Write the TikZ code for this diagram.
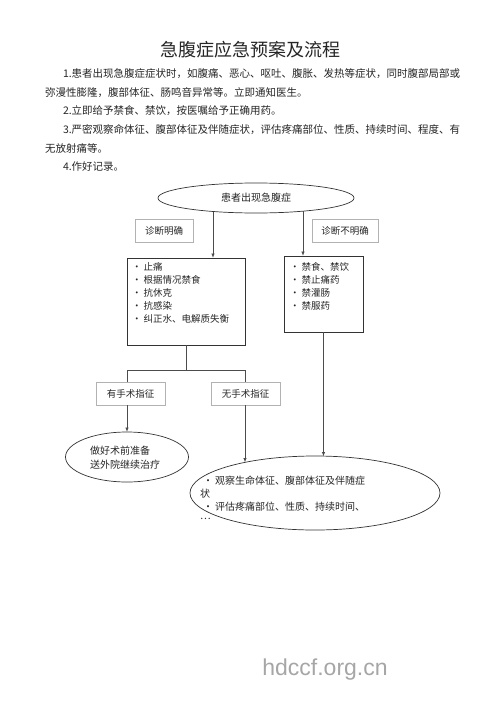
\documentclass[tikz,border=0pt]{standalone}
\usepackage{fontspec}
\setmainfont{Noto Sans CJK SC}
\newfontfamily\wmfont{Liberation Sans}
\usetikzlibrary{shapes.geometric,arrows.meta}
\begin{document}
\begin{tikzpicture}[x=1pt,y=-1pt,
  every node/.style={inner sep=0pt,outer sep=0pt,text=black!85},
  para/.style={anchor=west,font=\fontsize{10.5}{12}\selectfont},
  labelbox/.style={draw=black!30,line width=0.6pt,fill=white,minimum height=23pt,font=\fontsize{9.5}{11}\selectfont},
  contentbox/.style={draw=black!80,line width=0.7pt},
  oval/.style={ellipse,draw=black!80,line width=0.7pt},
  btext/.style={anchor=north west,align=left,font=\fontsize{9.5}{13}\selectfont},
  conn/.style={draw=black!70,line width=0.8pt},
  arr/.style={conn,-{Latex[length=4.5pt,width=3.5pt]}}
]
\useasboundingbox (0,0) rectangle (500,707);
\fill[white] (0,0) rectangle (500,707);

% title and text
\node[font=\fontsize{18}{20}\selectfont] (title) at (250,50) {急腹症应急预案及流程};
\node[para] (p1) at (63,74) {1.患者出现急腹症症状时，如腹痛、恶心、呕吐、腹胀、发热等症状，同时腹部局部或};
\node[para] (p1b) at (45,93) {弥漫性膨隆，腹部体征、肠鸣音异常等。立即通知医生。};
\node[para] (p2) at (63,111) {2.立即给予禁食、禁饮，按医嘱给予正确用药。};
\node[para] (p3) at (63,130) {3.严密观察命体征、腹部体征及伴随症状，评估疼痛部位、性质、持续时间、程度、有};
\node[para] (p3b) at (45,148) {无放射痛等。};
\node[para] (p4) at (63,167) {4.作好记录。};

% top ellipse
\node[oval,minimum width=196pt,minimum height=30pt,font=\fontsize{10}{12}\selectfont] (e1) at (256,198) {患者出现急腹症};
\coordinate (t1) at (213,211.5);
\coordinate (t2) at (303,211);

% labels
\node[labelbox,minimum width=58pt] (ld) at (164,231) {诊断明确};
\node[labelbox,minimum width=66pt] (rd) at (345,231) {诊断不明确};

% content boxes
\node[contentbox,minimum width=118pt,minimum height=87pt] (lb) at (186,301.5) {};
\node[btext] (lbt) at (132,262) {• 止痛\\• 根据情况禁食\\• 抗休克\\• 抗感染\\• 纠正水、电解质失衡};
\node[contentbox,minimum width=79pt,minimum height=76pt] (rb) at (323.5,294) {};
\node[btext] (rbt) at (290,262) {• 禁食、禁饮\\• 禁止痛药\\• 禁灌肠\\• 禁服药};

\draw[arr] (t1) -- (t1 |- lb.north);
\draw[arr] (t2) -- (t2 |- rb.north);

% branch
\coordinate (j) at (186,370);
\coordinate (jl) at (127,370);
\coordinate (jr) at (245,370);
\draw[conn] (lb.south) -- (j);
\draw[conn] (jl) -- (jr);

\node[labelbox,minimum width=69pt] (yes) at (130.5,393.5) {有手术指征};
\node[labelbox,minimum width=69pt] (no) at (245.5,393.5) {无手术指征};
\draw[conn] (jl) -- (jl |- yes.north);
\draw[conn] (jr) -- (jr |- no.north);

% lower ellipses
\node[oval,minimum width=123pt,minimum height=50pt] (le) at (127,457) {};
\node[anchor=west,align=left,font=\fontsize{10}{14}\selectfont] (let) at (90,458) {做好术前准备\\送外院继续治疗};
\node[oval,minimum width=250pt,minimum height=74pt] (be) at (315,493) {};
\coordinate (b1) at (245,462.5);
\coordinate (b2) at (323.5,456.5);

\draw[arr] (jl |- yes.south) -- (le.north);
\draw[arr] (jr |- no.south) -- (b1);
\draw[arr] (rb.south) -- (b2);

\node[anchor=west,font=\fontsize{10}{12}\selectfont] (bt1) at (203,481) {• 观察生命体征、腹部体征及伴随症};
\node[anchor=west,font=\fontsize{10}{12}\selectfont] (bt2) at (200,494) {状};
\node[anchor=west,font=\fontsize{10}{12}\selectfont] (bt3) at (203,507) {• 评估疼痛部位、性质、持续时间、};
\node[anchor=west,font=\fontsize{10}{12}\selectfont] (bt4) at (200,519) {…};

% watermark
\node[font=\wmfont\fontsize{23}{26}\selectfont,text=black!35] (wm) at (325,670) {hdccf.org.cn};
\end{tikzpicture}
\end{document}
